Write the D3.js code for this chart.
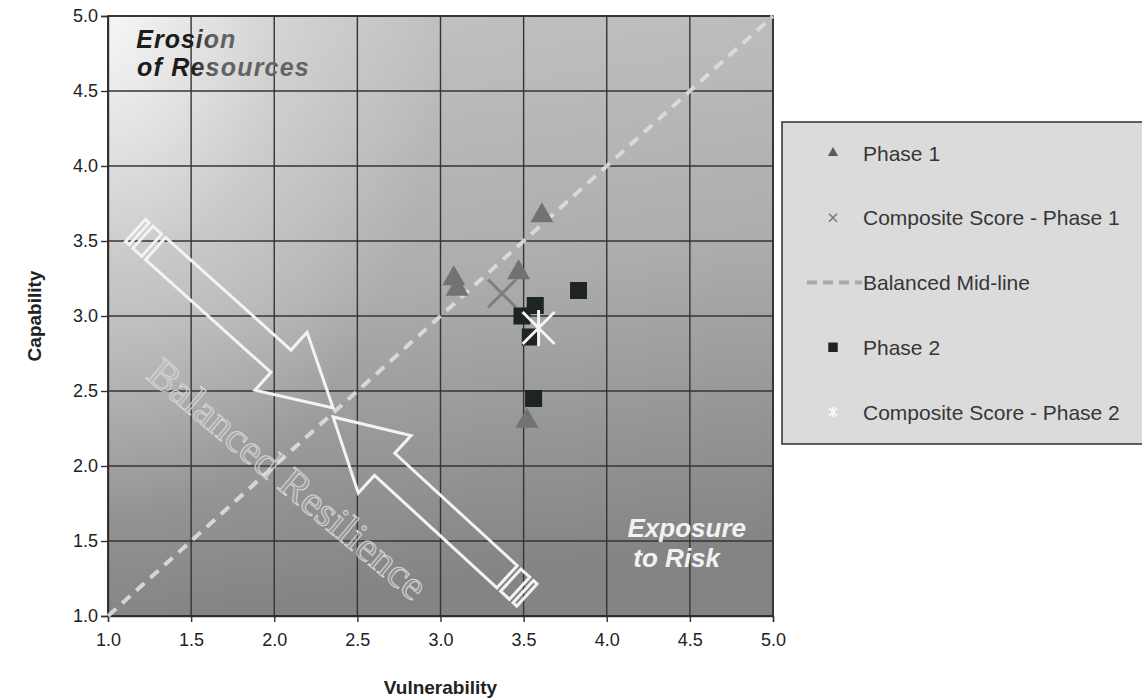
<!DOCTYPE html>
<html>
<head>
<meta charset="utf-8">
<script src="https://cdn.jsdelivr.net/npm/d3@7"></script>
<style>
  body { margin: 0; background: #fff; }
  text { font-family: "Liberation Sans", Arial, sans-serif; }
</style>
</head>
<body>
<div id="chart"></div>
<script>
// values
var axisTicks = [1.0, 1.5, 2.0, 2.5, 3.0, 3.5, 4.0, 4.5, 5.0];
var phase1X = [3.08, 3.10, 3.47, 3.61, 3.52];
var phase1Y = [3.25, 3.18, 3.29, 3.67, 2.30];
var composite1 = [3.37, 3.15];
var phase2X = [3.83, 3.57, 3.49, 3.54, 3.56];
var phase2Y = [3.17, 3.07, 3.00, 2.86, 2.45];
var composite2 = [3.59, 2.92];
var midLine = [[1, 1], [5, 5]];
var arrowTails = [[1.165, 3.57], [3.52, 1.14]];
var arrowTips = [[2.354, 2.387], [2.354, 2.327]];
var legendLabels = ["Phase 1", "Composite Score - Phase 1", "Balanced Mid-line", "Phase 2", "Composite Score - Phase 2"];

var margin = {top: 16, left: 108},
	width = 665,
	height = 600;

var svg = d3.select("#chart")
  .append("svg")
	.attr("width", 1142)
	.attr("height", 700);

var defs = svg.append("defs");

var lin = defs.append("linearGradient").attr("id", "bgLin")
	.attr("x1", 0).attr("y1", 0).attr("x2", 0.15).attr("y2", 1);
lin.append("stop").attr("offset", 0).attr("stop-color", "#c3c3c3");
lin.append("stop").attr("offset", 0.5).attr("stop-color", "#adadad");
lin.append("stop").attr("offset", 1).attr("stop-color", "#848484");

var rad = defs.append("radialGradient").attr("id", "bgRad")
	.attr("gradientUnits", "userSpaceOnUse")
	.attr("cx", 0).attr("cy", 0).attr("r", 420)
	.attr("gradientTransform", "scale(0.8,1.2)");
rad.append("stop").attr("offset", 0).attr("stop-color", "#fff").attr("stop-opacity", 0.85);
rad.append("stop").attr("offset", 0.5).attr("stop-color", "#fff").attr("stop-opacity", 0.3);
rad.append("stop").attr("offset", 1).attr("stop-color", "#fff").attr("stop-opacity", 0);

var ero = defs.append("linearGradient").attr("id", "eroFill")
	.attr("gradientUnits", "userSpaceOnUse")
	.attr("x1", 190).attr("y1", 0).attr("x2", 215).attr("y2", 0);
ero.append("stop").attr("offset", 0).attr("stop-color", "#1c1c1c");
ero.append("stop").attr("offset", 1).attr("stop-color", "#626262");

var x = d3.scaleLinear().domain([1, 5]).range([0, width]);
var y = d3.scaleLinear().domain([1, 5]).range([height, 0]);

var g = svg.append("g")
	.attr("transform", "translate(" + margin.left + "," + margin.top + ")");

// plot area background
g.append("rect").attr("width", width).attr("height", height).attr("fill", "url(#bgLin)");
g.append("rect").attr("width", width).attr("height", height).attr("fill", "url(#bgRad)");

// grid
g.selectAll(".vgrid").data(axisTicks).enter().append("line")
	.attr("x1", d => x(d)).attr("x2", d => x(d))
	.attr("y1", 0).attr("y2", height)
	.attr("stroke", "#353535").attr("stroke-width", 1.4);
g.selectAll(".hgrid").data(axisTicks).enter().append("line")
	.attr("y1", d => y(d)).attr("y2", d => y(d))
	.attr("x1", 0).attr("x2", width)
	.attr("stroke", "#353535").attr("stroke-width", 1.4);

// axes
var fmt = d3.format(".1f");
var xAxis = g.append("g").attr("transform", "translate(0," + height + ")")
	.call(d3.axisBottom(x).tickValues(axisTicks).tickFormat(fmt).tickSize(6).tickPadding(11));
var yAxis = g.append("g")
	.call(d3.axisLeft(y).tickValues(axisTicks).tickFormat(fmt).tickSize(7).tickPadding(3));
[xAxis, yAxis].forEach(function(a) {
	a.selectAll("path, line").attr("stroke", "#333").attr("stroke-width", 1.4);
	a.selectAll("text").attr("font-size", "18px").attr("fill", "#222");
});

g.append("rect").attr("width", width).attr("height", height)
	.attr("fill", "none").attr("stroke", "#2c2c2c").attr("stroke-width", 1.6);

// corner labels
var ts = g.append("g").attr("font-weight", "bold").attr("font-style", "italic");
ts.append("text").attr("x", x(1.17)).attr("y", y(4.79)).attr("font-size", "25px")
	.attr("letter-spacing", "1px")
	.attr("fill", "url(#eroFill)")
	.attr("transform", "translate(" + (-margin.left) + "," + (-margin.top) + ")")
	.attr("dx", margin.left).attr("dy", margin.top)
	.text("Erosion");
ts.append("text").attr("x", x(1.175)).attr("y", y(4.597)).attr("font-size", "25px")
	.attr("letter-spacing", "1.2px")
	.attr("fill", "url(#eroFill)")
	.attr("transform", "translate(" + (-margin.left) + "," + (-margin.top) + ")")
	.attr("dx", margin.left).attr("dy", margin.top)
	.text("of Resources");
ts.append("text").attr("x", x(4.125)).attr("y", y(1.53)).attr("font-size", "26px")
	.attr("fill", "#f2f2f2").text("Exposure");
ts.append("text").attr("x", x(4.16)).attr("y", y(1.33)).attr("font-size", "26px")
	.attr("fill", "#f2f2f2").text("to Risk");

// balanced resilience text (serif, outlined)
g.append("text")
	.attr("transform", "translate(" + x(2.065) + "," + y(1.89) + ") rotate(40)")
	.attr("text-anchor", "middle").attr("dominant-baseline", "middle")
	.style("font-family", "'Liberation Serif', 'Times New Roman', serif")
	.attr("font-size", "42px")
	.attr("textLength", 350).attr("lengthAdjust", "spacingAndGlyphs")
	.attr("fill", "rgba(255,255,255,0.1)")
	.attr("stroke", "#d6d6d6").attr("stroke-width", 1)
	.text("Balanced Resilience");

// block arrows with striped tails
function arrowParts(tail, tip) {
	var tx = x(tail[0]), ty = y(tail[1]), px = x(tip[0]), py = y(tip[1]);
	var L = Math.hypot(px - tx, py - ty), ang = Math.atan2(py - ty, px - tx);
	var c = Math.cos(ang), s = Math.sin(ang);
	var sh = 15, hh = 39, hl = 70;
	function pt(u, v) { return [tx + u * c - v * s, ty + u * s + v * c]; }
	function poly(list) { return "M" + list.map(p => pt(p[0], p[1]).join(",")).join("L") + "Z"; }
	return [
		poly([[0, -sh], [5, -sh], [5, sh], [0, sh]]),
		poly([[10, -sh], [22, -sh], [22, sh], [10, sh]]),
		poly([[27, -sh], [L - hl, -sh], [L - hl, -hh], [L, 0], [L - hl, hh], [L - hl, sh], [27, sh]])
	];
}
arrowTails.forEach(function(t, i) {
	g.selectAll(".arr" + i).data(arrowParts(t, arrowTips[i])).enter().append("path")
		.attr("d", d => d)
		.attr("fill", "none").attr("stroke", "#f3f3f3").attr("stroke-width", 3)
		.attr("stroke-linejoin", "miter");
});

// balanced mid-line
g.append("line")
	.attr("x1", x(midLine[0][0])).attr("y1", y(midLine[0][1]))
	.attr("x2", x(midLine[1][0])).attr("y2", y(midLine[1][1]))
	.attr("stroke", "#dedede").attr("stroke-width", 4)
	.attr("stroke-dasharray", "11,8").attr("opacity", 0.9);

// markers
var tri = d3.symbol().type(d3.symbolTriangle).size(230);
var sq = d3.symbol().type(d3.symbolSquare).size(290);

g.selectAll(".p1").data(phase1X).enter().append("path")
	.attr("d", tri)
	.attr("transform", (d, i) => "translate(" + x(d) + "," + y(phase1Y[i]) + ")")
	.attr("fill", "#727272");

function crossPath(cx, cy, r) {
	return "M" + (cx - r) + "," + (cy - r) + "L" + (cx + r) + "," + (cy + r) +
		"M" + (cx - r) + "," + (cy + r) + "L" + (cx + r) + "," + (cy - r);
}
g.append("path")
	.attr("d", crossPath(x(composite1[0]), y(composite1[1]), 14))
	.attr("stroke", "#7e7e7e").attr("stroke-width", 3).attr("fill", "none");

g.selectAll(".p2").data(phase2X).enter().append("path")
	.attr("d", sq)
	.attr("transform", (d, i) => "translate(" + x(d) + "," + y(phase2Y[i]) + ")")
	.attr("fill", "#1e2422");

var c2x = x(composite2[0]), c2y = y(composite2[1]);
g.append("path")
	.attr("d", crossPath(c2x, c2y, 16) + "M" + c2x + "," + (c2y - 18) + "L" + c2x + "," + (c2y + 18))
	.attr("stroke", "#f4f4f4").attr("stroke-width", 3).attr("fill", "none");

// axis titles
svg.append("text")
	.attr("x", margin.left + width / 2).attr("y", 694)
	.attr("text-anchor", "middle").attr("font-weight", "bold").attr("font-size", "19px")
	.attr("fill", "#222").text("Vulnerability");
svg.append("text")
	.attr("transform", "translate(41," + (margin.top + height / 2) + ") rotate(-90)")
	.attr("text-anchor", "middle").attr("font-weight", "bold").attr("font-size", "19px")
	.attr("fill", "#222").text("Capability");

// legend
var lg = svg.append("g");
lg.append("rect").attr("x", 782).attr("y", 122).attr("width", 366).attr("height", 322)
	.attr("fill", "#dbdbdb").attr("stroke", "#3a3a3a").attr("stroke-width", 1.6);

var legendY = i => 153 + i * 64.75;
lg.selectAll(".lt").data(legendLabels).enter().append("text")
	.attr("x", 863).attr("y", (d, i) => legendY(i))
	.attr("dominant-baseline", "central")
	.attr("font-size", "21px").attr("fill", "#363636")
	.text(d => d);

lg.append("path").attr("d", d3.symbol().type(d3.symbolTriangle).size(45))
	.attr("transform", "translate(833," + legendY(0) + ")").attr("fill", "#5a5a5a");
lg.append("path").attr("d", crossPath(833, legendY(1), 4))
	.attr("stroke", "#7a7a7a").attr("stroke-width", 1.6);
lg.append("line").attr("x1", 807).attr("x2", 862).attr("y1", legendY(2)).attr("y2", legendY(2))
	.attr("stroke", "#aaaaaa").attr("stroke-width", 4).attr("stroke-dasharray", "10,6");
lg.append("path").attr("d", d3.symbol().type(d3.symbolSquare).size(90))
	.attr("transform", "translate(833," + legendY(3) + ")").attr("fill", "#222");
lg.append("path").attr("d", crossPath(833, legendY(4), 4) + "M833," + (legendY(4) - 5) + "L833," + (legendY(4) + 5))
	.attr("stroke", "#f6f6f6").attr("stroke-width", 2);
</script>
</body>
</html>
